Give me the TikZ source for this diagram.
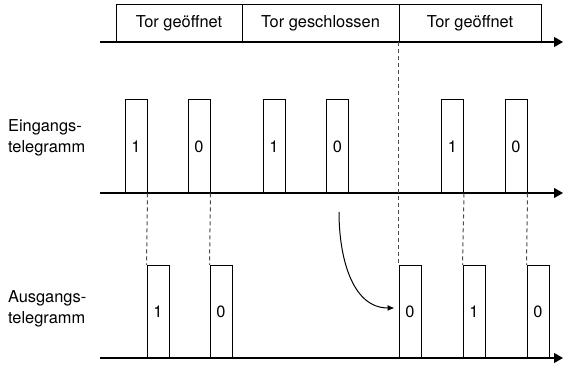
\documentclass[tikz,border=0pt]{standalone}
\usepackage{fontspec}
\setmainfont{TeX Gyre Heros}
\usetikzlibrary{arrows.meta}
\begin{document}
\begin{tikzpicture}[x=0.5pt, y=-0.5pt, font=\fontsize{8.2}{10.5}\selectfont,
  pulse/.style={rectangle, draw, line width=0.5pt, minimum width=11pt, minimum height=46.5pt, inner sep=0pt},
  gate/.style={rectangle, draw, line width=0.5pt, minimum height=18.5pt, inner sep=0pt},
  axis/.style={line width=0.6pt, -{Triangle[length=4.5pt,width=5pt]}},
  sync/.style={black!70, line width=0.5pt, dash pattern=on 2pt off 1.5pt}]

  \useasboundingbox (0,0) rectangle (564,367);

  % Define axes
  \coordinate (top0) at (100,42);  \coordinate (top1) at (563,42);
  \coordinate (in0) at (100,193);  \coordinate (in1) at (563,193);
  \coordinate (out0) at (100,358); \coordinate (out1) at (563,358);

  % Define gate states
  \node[gate, minimum width=63pt] (g1) at (179,23.5) {Tor geöffnet};
  \node[gate, minimum width=78.5pt] (g2) at (320.5,23.5) {Tor geschlossen};
  \node[gate, minimum width=71pt] (g3) at (470,23.5) {Tor geöffnet};

  % Define input telegrams
  \node[pulse] (e1) at (136,146.5) {1};
  \node[pulse] (e2) at (199,146.5) {0};
  \node[pulse] (e3) at (274,146.5) {1};
  \node[pulse] (e4) at (337.5,146.5) {0};
  \node[pulse] (e5) at (452.5,146.5) {1};
  \node[pulse] (e6) at (516,146.5) {0};

  % Define output telegrams
  \node[pulse] (a1) at (158,312) {1};
  \node[pulse] (a2) at (221,312) {0};
  \node[pulse] (a3) at (410,312) {0};
  \node[pulse] (a4) at (474,312) {1};
  \node[pulse] (a5) at (538,312) {0};

  % Add row labels
  \node[anchor=west, align=left] (inlabel) at (1,137.5) {Eingangs-\\telegramm};
  \node[anchor=west, align=left] (outlabel) at (1,308.5) {Ausgangs-\\telegramm};

  % Draw axes
  \draw[axis] (top0) -- (top1);
  \draw[axis] (in0) -- (in1);
  \draw[axis] (out0) -- (out1);

  % Draw delay lines
  \draw[sync] (e1.south east) -- (a1.north west);
  \draw[sync] (e2.south east) -- (a2.north west);
  \draw[sync] (g3.south west) -- (a3.north west);
  \draw[sync] (e5.south east) -- (a4.north west);
  \draw[sync] (e6.south east) -- (a5.north west);

  % Draw stored telegram
  \coordinate (bend) at (339,212);
  \draw[line width=0.5pt, -{Latex[length=3.5pt,width=3pt]}] (bend) to[out=-90, in=180] ([xshift=-2pt, yshift=2pt]a3.west);
\end{tikzpicture}
\end{document}
